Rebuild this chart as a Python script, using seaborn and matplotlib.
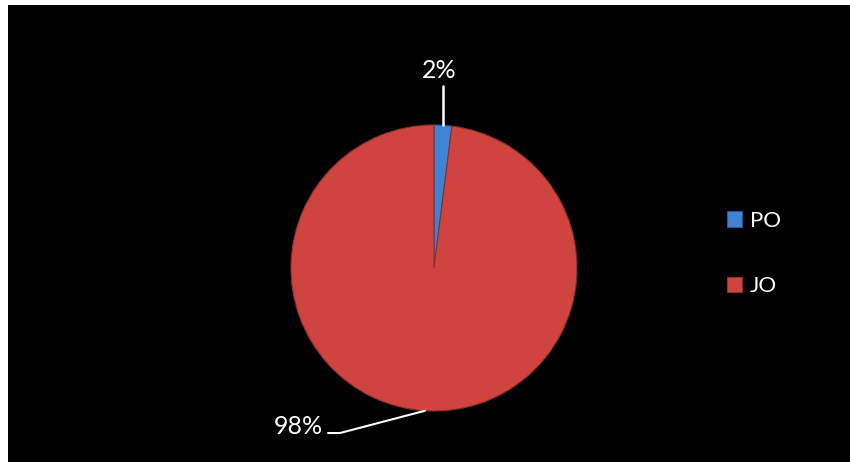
import matplotlib
matplotlib.use('Agg')
import matplotlib.pyplot as plt
import numpy as np
import seaborn as sns
from matplotlib.patches import Rectangle

# data
labels = ['PO', 'JO']
values = [2, 98]
pct_text = ['2%', '98%']

sns.set_style('white')
plt.rcParams['font.family'] = ['Lato', 'DejaVu Sans']
colors = sns.color_palette(['#3f83d2', '#d0443f'])
edges = ['#23568f', '#8f2f2c']

W, H = 850, 462
fig = plt.figure(figsize=(W / 100, H / 100), dpi=100)
fig.patch.set_facecolor('white')
# black chart area with thin white margin at left/top
fig.patches.append(Rectangle((8 / W, 0), 1 - 8 / W, 1 - 5 / H,
                             transform=fig.transFigure, facecolor='black',
                             edgecolor='none', zorder=-5))

cx, cy, r = 434, 268, 143
ax = fig.add_axes([(cx - r) / W, (H - cy - r) / H, 2 * r / W, 2 * r / H])
ax.set_zorder(2)
ax.set_facecolor('none')
wedges, _ = ax.pie(values, colors=colors, startangle=90, counterclock=False,
                   wedgeprops=dict(linewidth=0.8))
for w, ec in zip(wedges, edges):
    w.set_edgecolor(ec)
ax.set_xlim(-1, 1)
ax.set_ylim(-1, 1)
ax.set_aspect('equal')
ax.axis('off')

# labels with leader lines, anchored at each wedge's mid angle
for w, txt in zip(wedges, pct_text):
    ang = np.deg2rad((w.theta1 + w.theta2) / 2)
    x0, y0 = np.cos(ang), np.sin(ang)
    if y0 > 0:
        ax.plot([x0, x0], [y0, 1.27], color='white', lw=1.8, clip_on=False)
        ax.text(x0 - 0.03, 1.30, txt, color='white', fontsize=18,
                ha='center', va='bottom', clip_on=False)
    else:
        ax.plot([x0, -0.657, -0.741], [y0, -1.154, -1.154], color='white',
                lw=1.5, clip_on=False)
        ax.text(-0.776, -1.161, txt, color='white', fontsize=18,
                ha='right', va='baseline', clip_on=False)

leg = fig.legend(wedges, labels, loc='center left',
                 bbox_to_anchor=(727 / W, 1 - 253.5 / H), frameon=False,
                 fontsize=16, labelcolor='white', handlelength=0.68,
                 handleheight=0.68, handletextpad=0.35, labelspacing=2.05,
                 borderpad=0, borderaxespad=0)
leg.set_zorder(3)

fig.savefig('out.png', dpi=100, facecolor=fig.get_facecolor())
